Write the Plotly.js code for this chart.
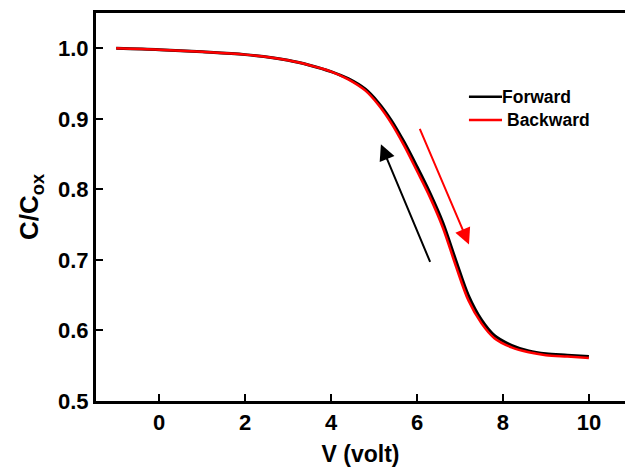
<!DOCTYPE html>
<html>
<head>
<meta charset="utf-8">
<script src="https://cdn.plot.ly/plotly-3.0.1.min.js"></script>
<style>html,body{margin:0;padding:0;background:#fff;}#chart{width:625px;height:467px;}</style>
</head>
<body>
<div id="chart"></div>
<script>
const voltage = [-1, 0, 1, 2, 3, 3.5, 4.0, 4.4, 4.8, 5.1, 5.4, 5.7, 6.0, 6.3, 6.6, 6.9, 7.2, 7.5, 7.8, 8.2, 8.6, 9.0, 9.5, 10];
const forward = [1.000, 0.998, 0.995, 0.991, 0.983, 0.976, 0.967, 0.957, 0.942, 0.923, 0.898, 0.867, 0.832, 0.795, 0.753, 0.700, 0.649, 0.615, 0.593, 0.579, 0.571, 0.567, 0.565, 0.563];
const backward = [1.000, 0.998, 0.995, 0.991, 0.983, 0.976, 0.967, 0.956, 0.940, 0.920, 0.894, 0.862, 0.826, 0.789, 0.746, 0.692, 0.642, 0.610, 0.589, 0.576, 0.569, 0.565, 0.563, 0.561];
const seriesNames = ["Forward", "Backward"];
const seriesColors = ["#000000", "#ff0000"];
const xTicks = [0, 2, 4, 6, 8, 10];
const yTicks = [0.5, 0.6, 0.7, 0.8, 0.9, 1.0];
// arrows: [tailX, tailY, headX, headY]
const forwardArrow = [6.32, 0.695, 5.16, 0.864];
const backwardArrow = [6.05, 0.888, 7.21, 0.722];

const FONT = "Liberation Sans, Arial, sans-serif";
const traces = [
  {x: voltage, y: forward, name: seriesNames[0], mode: "lines", showlegend: false, line: {color: seriesColors[0], width: 3, shape: "spline", smoothing: 0.9}},
  {x: voltage, y: backward, name: seriesNames[1], mode: "lines", showlegend: false, line: {color: seriesColors[1], width: 2.5, shape: "spline", smoothing: 0.9}}
];
function arrow(a, color) {
  return {x: a[2], y: a[3], ax: a[0], ay: a[1], xref: "x", yref: "y", axref: "x", ayref: "y",
    showarrow: true, arrowhead: 2, arrowsize: 1.6, arrowwidth: 2, arrowcolor: color, text: ""};
}
// manual legend (paper coords)
const legendRows = [0.784, 0.724];
const legendShapes = seriesNames.map((n, i) => ({type: "line", xref: "paper", yref: "paper",
  x0: 0.705, x1: 0.7675, y0: legendRows[i], y1: legendRows[i], line: {color: seriesColors[i], width: 2.5}}));
const legendTexts = seriesNames.map((n, i) => ({xref: "paper", yref: "paper", x: i === 0 ? 0.763 : 0.773, y: legendRows[i],
  xanchor: "left", yanchor: "middle", showarrow: false, text: "<b>" + n + "</b>",
  font: {family: FONT, size: 17.5, color: "#000"}}));

const layout = {
  width: 625, height: 467,
  margin: {l: 96, r: 0, t: 13, b: 66},
  paper_bgcolor: "#fff", plot_bgcolor: "#fff",
  font: {family: FONT, color: "#000"},
  showlegend: false,
  xaxis: {range: [-1.47, 10.84], tickvals: xTicks, ticktext: xTicks.map(String),
    ticks: "inside", ticklen: 7, tickwidth: 2, tickcolor: "#000",
    showline: true, linewidth: 3, linecolor: "#000", mirror: true, showgrid: false, zeroline: false,
    tickfont: {family: FONT, size: 22, weight: "bold"},
    title: {text: "<b>V (volt)</b>", font: {family: FONT, size: 23}, standoff: 14}},
  yaxis: {range: [0.5, 1.05], tickvals: yTicks, ticktext: yTicks.map(v => v.toFixed(1)),
    ticks: "inside", ticklen: 7, tickwidth: 2, tickcolor: "#000",
    showline: true, linewidth: 3, linecolor: "#000", mirror: false, showgrid: false, zeroline: false,
    tickfont: {family: FONT, size: 22, weight: "bold"},
    title: {text: "<b>C/C<sub>ox</sub></b>", font: {family: FONT, size: 26}, standoff: 12}},
  shapes: legendShapes,
  annotations: [arrow(forwardArrow, "#000"), arrow(backwardArrow, "#ff0000")].concat(legendTexts)
};
Plotly.newPlot("chart", traces, layout, {displayModeBar: false, staticPlot: true});
</script>
</body>
</html>
